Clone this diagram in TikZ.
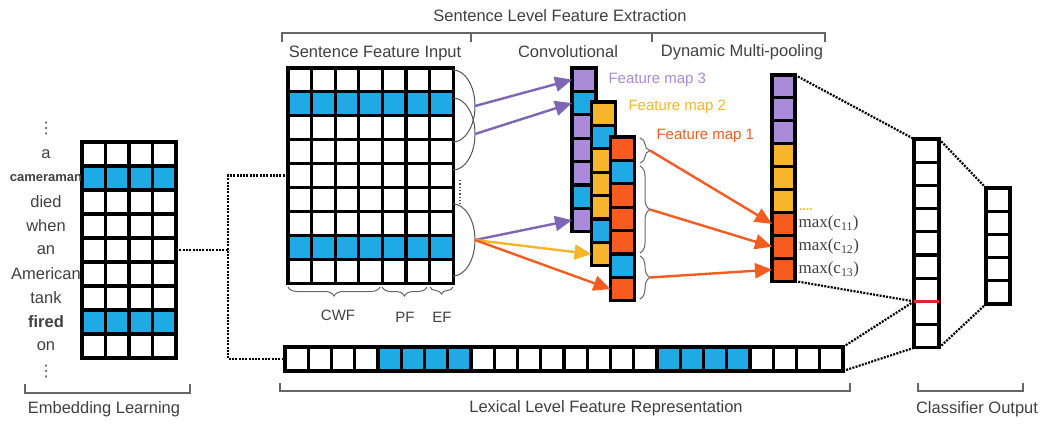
\documentclass[tikz,border=0pt]{standalone}
\usepackage{fontspec}
\setmainfont{Liberation Sans}
\newfontfamily\maxfont{Liberation Serif}
\newfontfamily\dotsfont{DejaVu Sans}
\usetikzlibrary{arrows.meta,decorations.pathreplacing}

\definecolor{blu}{HTML}{1FA9E5}
\definecolor{pur}{HTML}{A98BDA}
\definecolor{arrpur}{HTML}{7E66B4}
\definecolor{yel}{HTML}{F7B52C}
\definecolor{org}{HTML}{F75B1F}
\definecolor{redc}{HTML}{E4242A}
\definecolor{txtgray}{HTML}{404040}
\definecolor{arcgray}{HTML}{555555}
\definecolor{brkgray}{HTML}{666666}

\begin{document}
\begin{tikzpicture}[x=1pt,y=-1pt,
	cell/.style={draw, line width=3.1pt, inner sep=0pt, outer sep=0pt, minimum width=23.5pt, minimum height=24pt},
	lbl/.style={text=txtgray, font=\fontsize{16.5}{20}\selectfont},
	small/.style={text=txtgray, font=\fontsize{15}{18}\selectfont},
	maxlbl/.style={text=txtgray, font=\maxfont\fontsize{17}{20}\selectfont, anchor=west},
	vdot/.style={text=arcgray, font=\dotsfont\fontsize{16}{16}\selectfont, inner sep=0pt},
	dotline/.style={line width=2.2pt, dash pattern=on 2pt off 1.3pt},
	brk/.style={draw=brkgray, line width=1.1pt},
	brc/.style={brkgray, line width=1pt, decorate, decoration={brace, amplitude=#1}},
	brc/.default=9pt,
	arr/.style={line width=2.4pt, -{Triangle[length=17pt,width=15pt]}}]
	\useasboundingbox (0,0) rectangle (1048,428);
	\foreach \f [count=\r] in {white,blu,white,white,white,white,white,blu,white}
		\foreach \c in {1,...,4}
			\node[cell, fill=\f] (emb-\r-\c) at ({82+23.5*(\c-0.5)},{142+24*(\r-0.5)}) {};
	\foreach \w [count=\r] in {a,{\bfseries\fontsize{13}{15}\selectfont cameraman},died,when,an,American,tank,{\bfseries fired},on}
		\node[lbl] (w-\r) at (46,{142+24*(\r-0.5)}) {\w};
	\node[vdot] (vd-t) at (46,129) {⋮};
	\node[vdot] (vd-b) at (46,372) {⋮};
	\foreach \f [count=\r] in {white,blu,white,white,white,white,white,blu,white}
		\foreach \c in {1,...,7}
			\node[cell, minimum width=23.6pt, minimum height=23.9pt, fill=\f] (snt-\r-\c) at ({288+23.6*(\c-0.5)},{68+23.9*(\r-0.5)}) {};
	\foreach \y [count=\i] in {106,134,240} {
		\draw[arcgray, line width=1pt] (453,\y-36) arc[start angle=-90, end angle=90, x radius=22, y radius=36];
		\coordinate (k\i) at (475,\y);
	}
	\draw[arcgray, line width=1.3pt, dotted] (460,180) -- (460,204);
	\foreach \m/\x/\y/\col in {3/584/68/pur, 2/603.5/102/yel, 1/622.5/137/org}
		\foreach \f [count=\r] in {\col,blu,\col,\col,\col,blu,\col}
			\node[cell, minimum width=24pt, minimum height=23.4pt, fill=\f] (fm\m-\r) at (\x,{\y+23.4*(\r-0.5)}) {};
	\node[small, text=pur, anchor=west] (lab3) at (605,80) {Feature map 3};
	\node[small, text=yel, anchor=west] (lab2) at (625,107) {Feature map 2};
	\node[small, text=org, anchor=west] (lab1) at (653,136) {Feature map 1};
	\draw[arr, arrpur] (k1) -- (fm3-1.west);
	\draw[arr, arrpur] (k2) -- (fm3-2.west);
	\draw[arr, arrpur] (k3) -- (fm3-7.west);
	\draw[arr, yel] (k3) -- (fm2-7.west);
	\draw[arr, org] (k3) -- (fm1-7.west);
	\draw[brc=10pt] (640,138) -- (640,163);
	\draw[brc=10pt] (640,166) -- (640,253);
	\draw[brc=10pt] (640,256) -- (640,299);
	\coordinate (b1) at (650,150.5);
	\coordinate (b2) at (650,209.5);
	\coordinate (b3) at (650,277.5);
	\foreach \f [count=\r] in {pur,pur,pur,yel,yel,yel,org,org,org}
		\node[cell, minimum width=23pt, minimum height=22.9pt, fill=\f] (pool-\r) at (783.5,{75+22.9*(\r-0.5)}) {};
	\draw[arr, org] (b1) -- (pool-7.west);
	\draw[arr, org] (b2) -- (pool-8.west);
	\draw[arr, org] (b3) -- (pool-9.west);
	\node[text=yel, font=\bfseries\fontsize{12}{12}\selectfont, inner sep=0pt] (dots) at (806,210) {....};
	\foreach \r/\k in {7/1,8/2,9/3}
		\node[maxlbl] (mx-\k) at (pool-\r.east) {max(c\textsubscript{1\k})};
	\foreach \r in {1,...,9}
		\node[cell, minimum width=25pt, minimum height=23.2pt] (cls-\r) at (926.5,{139+23.2*(\r-0.5)}) {};
	\foreach \r in {1,...,5}
		\node[cell, minimum width=24pt, minimum height=23.2pt] (out-\r) at (998,{188+23.2*(\r-0.5)}) {};
	\foreach \f [count=\i] in {white,white,white,white,blu,blu,blu,blu,white,white,white,white,white,white,white,white,blu,blu,blu,blu,white,white,white,white}
		\node[cell, minimum width=23.25pt, fill=\f] (lex-\i) at ({285+23.25*(\i-0.5)},359) {};
	\draw[dotline] (emb-5-4.east) -- ++(52,0) coordinate (jn);
	\draw[dotline] (snt-5-1.west) -| (jn) |- (lex-1.west);
	\draw[dotline] (pool-1.north east) -- (cls-1.north west);
	\draw[dotline] (pool-9.south east) -- (cls-7.south west);
	\draw[dotline] (lex-24.north east) -- (cls-7.south west);
	\draw[dotline] (lex-24.south east) -- (cls-9.south west);
	\draw[dotline] (cls-1.north east) -- (out-1.north west);
	\draw[dotline] (cls-9.south east) -- (out-5.south west);
	\draw[redc, line width=3pt] (cls-7.south west) -- (cls-7.south east);
	\draw[brk] (282,42) |- (825,33) -- (825,42);
	\draw[brk] (471,33) -- (471,42);
	\draw[brk] (652,33) -- (652,42);
	\draw[brk] (25,384) |- (190,393) -- (190,384);
	\draw[brk] (280,383) |- (850,391) -- (850,383);
	\draw[brk] (918,383) |- (1023,391) -- (1023,383);
	\draw[brc] (380,287) -- (288,287);
	\draw[brc] (427,287) -- (382,287);
	\draw[brc=7pt] (453,287) -- (430,287);
	\node[small] (t-cwf) at (338,315) {CWF};
	\node[small] (t-pf) at (405,317) {PF};
	\node[small] (t-ef) at (442,317) {EF};
	\node[lbl] (t-sent) at (560,16) {Sentence Level Feature Extraction};
	\node[lbl] (t-sfi) at (375,53) {Sentence Feature Input};
	\node[lbl] (t-conv) at (568,52) {Convolutional};
	\node[lbl] (t-dmp) at (742,52) {Dynamic Multi-pooling};
	\node[lbl] (t-emb) at (104,409) {Embedding Learning};
	\node[lbl] (t-lex) at (606,408) {Lexical Level Feature Representation};
	\node[lbl] (t-cls) at (977,409) {Classifier Output};
\end{tikzpicture}
\end{document}
